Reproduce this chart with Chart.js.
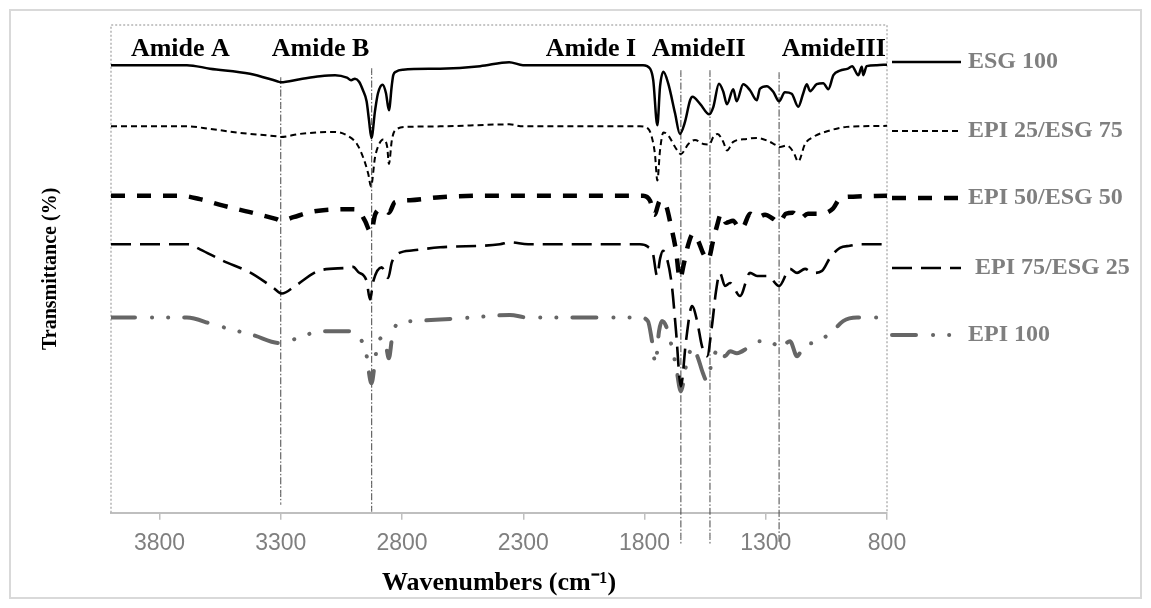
<!DOCTYPE html>
<html>
<head>
<meta charset="utf-8">
<script src="https://cdn.jsdelivr.net/npm/chart.js@4/dist/chart.umd.min.js"></script>
<style>html,body{margin:0;background:#fff}</style>
</head>
<body>
<canvas id="chart" width="1151" height="608"></canvas>
<script>
// FTIR spectra, transmittance in arbitrary units (curves are offset)
const seriesNames = ["ESG 100", "EPI 25/ESG 75", "EPI 50/ESG 50", "EPI 75/ESG 25", "EPI 100"];

const wnESG100 = [4000,3687,3592,3427,3315,3300,3221,3138,3076,3027,3010,2994,2977,2961,2946,2936,2926,2911,2899,2880,2866,2854,2842,2836,2825,2796,2643,2478,2358,2301,1806,1777,1764,1747,1736,1722,1702,1674,1654,1633,1612,1602,1571,1533,1516,1493,1475,1460,1434,1420,1393,1365,1337,1324,1296,1269,1245,1221,1193,1166,1146,1131,1117,1090,1063,1042,1021,994,961,944,918,904,898,884,842,800];
const tESG100 = [89.2,89.2,88.5,87.5,86,85.8,86.4,87,87.2,86.7,86.2,86.5,85.9,84.2,82,78.2,74.7,80.2,83.6,85.3,83.6,80.2,85.2,87.2,87.9,88.3,88.5,89,89.8,89.2,89.2,88.5,86.2,77.2,84.9,87.9,85.5,79.6,75.5,77.9,82.2,82.9,81.5,79.4,80.9,85.5,83.9,81.4,84.4,82,85.4,84.2,82.2,84.5,85,83.9,82,83.8,83.5,80.9,83.5,85.4,84,85.4,85.6,84.4,87.2,88.1,88.5,89,87.2,88.9,87.2,89,89.2,89.3];

const wnEPI25 = [4000,3687,3592,3468,3315,3300,3221,3076,3027,2986,2960,2939,2928,2911,2894,2878,2861,2854,2842,2829,2779,2643,2358,2301,1819,1784,1770,1757,1747,1736,1722,1702,1674,1650,1619,1592,1558,1533,1516,1499,1475,1460,1434,1379,1337,1296,1255,1241,1214,1186,1166,1138,1104,1035,966,800];
const tEPI25 = [77,77,76.5,75.7,75,74.9,75.5,75.9,75.2,73.5,70.8,67.5,65,70.9,73.5,74.4,72.9,69.5,74.2,76.2,76.9,77,77.4,77,77,76.5,74.9,71.5,66.2,72.2,75.8,75.2,72.9,71.5,73.5,74.3,73.5,73.4,74.9,75.5,73.9,72.2,73.9,74.5,74.7,74.2,73.2,72.9,73.2,71.9,70,73.5,74.9,76.2,76.9,77.1];

const wnEPI50 = [4000,3715,3633,3537,3427,3317,3300,3248,3179,3125,3001,2981,2953,2928,2911,2884,2866,2854,2829,2767,2643,2396,1806,1777,1759,1736,1711,1691,1670,1654,1637,1621,1600,1579,1559,1538,1517,1501,1484,1464,1435,1406,1390,1365,1336,1303,1270,1245,1217,1188,1159,1126,1068,1023,994,940,800];
const tEPI50 = [63.2,63.2,62.5,61.2,59.9,58.5,58.2,58.9,59.9,60.3,60.5,60.3,58.2,55.9,59.4,60.5,60.2,59.8,61.9,62.3,62.9,63.2,63.2,62.2,59.4,62.2,61.2,57.2,52.2,46.6,49.8,53.2,55.6,54.2,51.8,50.4,54.2,57.2,59.6,57.8,58.2,56.6,57.2,59.6,58.8,59.4,58.6,57.8,59.6,59.8,58.6,59.6,59.6,60.6,62.6,63,63.2];

const wnEPI75 = [4000,3682,3633,3538,3427,3332,3295,3241,3138,3028,3002,2981,2946,2932,2918,2884,2857,2842,2822,2753,2643,2396,2355,2280,1819,1786,1765,1748,1736,1724,1707,1687,1670,1650,1629,1604,1583,1563,1542,1522,1505,1489,1468,1447,1406,1365,1336,1291,1245,1200,1171,1138,1105,1068,1035,994,953,911,800];
const tEPI75 = [53.5,53.5,52.5,50.2,47.9,44.9,43.7,45.2,48.3,48.8,49,48,46.2,42.5,46.2,48.9,46.8,49.9,51.5,52.3,52.9,53.5,53.9,53.5,53.5,53,51.6,47.2,50.6,52.2,50.6,45.2,36.2,25.2,34.2,41.2,38.2,33.2,31.2,37.2,44.2,47.8,45.2,45.8,43.2,47.8,47.2,47.2,45.2,48.6,47.8,48.6,47.8,48.2,50.8,52.8,53.2,53.5,53.5];

const wnEPI100 = [4000,3880,3687,3583,3509,3414,3300,3221,3130,3023,2973,2948,2926,2907,2887,2870,2854,2841,2821,2759,2643,2520,2355,2280,1819,1786,1769,1755,1740,1728,1711,1691,1670,1650,1629,1612,1600,1579,1559,1542,1526,1509,1489,1468,1447,1419,1377,1336,1282,1241,1200,1171,1138,1105,1056,1023,981,924,800];
const tEPI100 = [38.9,38.9,38.9,37.6,36.6,35.4,33.8,35,36.2,36.2,34.8,31.8,25.8,31.8,34.8,34.2,30.8,34.8,37.6,38.2,38.5,38.9,39.4,38.9,38.9,38.2,34.2,29.8,36.2,38.2,37.2,33.8,29.2,24.2,29.2,32.2,33,30.8,27.8,26.2,29.2,31.8,32.8,31.2,32.2,31.8,32.8,34.2,34.2,32.8,34.2,31.2,33.6,33.8,35,36.2,38.2,38.9,38.9];

// band marker lines
const markerWn = [3300, 2925, 1650, 1530, 1245];
const markerTop = [86.8, 88.6, 88.2, 88.2, 87.8];
const markerBottom = [1.6, 0.2, -6.2, -6.2, -5.8];

const bandLabels = ["Amide A", "Amide B", "Amide I", "AmideII", "AmideIII"];
const bandLabelWn = [3918, 3337, 2207, 1770, 1234];

const tickLabels = [3800, 3300, 2800, 2300, 1800, 1300, 800];

const SERIF = "'Liberation Serif', 'Times New Roman', serif";
const SANS = "'Liberation Sans', Arial, sans-serif";

function pts(xs, ys) {
  return xs.map((x, i) => ({ x: x, y: ys[i] }));
}

const series = [
  { label: seriesNames[0], data: pts(wnESG100, tESG100), borderColor: "#000", borderWidth: 2.5, borderDash: [] },
  { label: seriesNames[1], data: pts(wnEPI25, tEPI25), borderColor: "#000", borderWidth: 2, borderDash: [6, 4] },
  { label: seriesNames[2], data: pts(wnEPI50, tEPI50), borderColor: "#000", borderWidth: 4.5, borderDash: [14, 12] },
  { label: seriesNames[3], data: pts(wnEPI75, tEPI75), borderColor: "#000", borderWidth: 2.6, borderDash: [20, 9] },
  { label: seriesNames[4], data: pts(wnEPI100, tEPI100), borderColor: "#666", borderWidth: 4, borderDash: [24, 17, 0.1, 16, 0.1, 16], borderCapStyle: "round" }
];

const markers = markerWn.map((wn, i) => ({
  label: "marker" + i,
  data: [{ x: wn, y: markerTop[i] }, { x: wn, y: markerBottom[i] }],
  borderColor: "#444",
  borderWidth: 1,
  borderDash: [7, 2, 1.5, 2],
  clip: false
}));

const legendY = [62, 131, 198, 268, 335];
const legendTextX = [968, 968, 968, 975, 968];

const decorations = {
  id: "decorations",
  beforeDraw(chart) {
    const ctx = chart.ctx;
    ctx.save();
    ctx.fillStyle = "#fff";
    ctx.fillRect(0, 0, chart.width, chart.height);
    ctx.strokeStyle = "#d9d9d9";
    ctx.lineWidth = 2;
    ctx.strokeRect(10, 10, 1131, 588);
    ctx.restore();
  },
  beforeDatasetsDraw(chart) {
    const { ctx, chartArea: a } = chart;
    ctx.save();
    ctx.strokeStyle = "#b4b4b4";
    ctx.lineWidth = 1.5;
    ctx.setLineDash([2, 2]);
    ctx.beginPath();
    ctx.moveTo(a.left, a.bottom);
    ctx.lineTo(a.left, a.top);
    ctx.lineTo(a.right, a.top);
    ctx.lineTo(a.right, a.bottom);
    ctx.stroke();
    ctx.restore();
  },
  afterDraw(chart) {
    const ctx = chart.ctx;
    const xs = chart.scales.x, ys = chart.scales.y;
    ctx.save();
    // band names
    ctx.fillStyle = "#000";
    ctx.font = "bold 26px " + SERIF;
    ctx.textAlign = "left";
    ctx.textBaseline = "alphabetic";
    bandLabels.forEach((t, i) => {
      ctx.fillText(t, xs.getPixelForValue(bandLabelWn[i]), ys.getPixelForValue(91.1));
    });
    // legend
    ctx.font = "bold 24px " + SERIF;
    ctx.textBaseline = "middle";
    series.forEach((ds, i) => {
      const y = legendY[i];
      ctx.save();
      ctx.strokeStyle = ds.borderColor;
      ctx.lineWidth = ds.borderWidth;
      ctx.lineCap = ds.borderCapStyle || "butt";
      ctx.setLineDash(ds.borderDash);
      ctx.beginPath();
      ctx.moveTo(892, y);
      ctx.lineTo(961, y);
      ctx.stroke();
      ctx.restore();
      ctx.fillStyle = "#7f7f7f";
      ctx.fillText(ds.label, legendTextX[i], y);
    });
    ctx.restore();
  }
};

new Chart(document.getElementById("chart").getContext("2d"), {
  type: "line",
  data: { datasets: series.concat(markers) },
  options: {
    responsive: false,
    animation: false,
    devicePixelRatio: 1,
    layout: { padding: { top: 25, right: 264, left: 20, bottom: 2 } },
    elements: {
      point: { radius: 0 },
      line: { cubicInterpolationMode: "monotone", fill: false }
    },
    plugins: { legend: { display: false }, tooltip: { enabled: false } },
    scales: {
      x: {
        type: "linear",
        reverse: true,
        min: 800,
        max: 4000,
        afterBuildTicks: (s) => { s.ticks = tickLabels.map(v => ({ value: v })); },
        grid: { drawOnChartArea: false, drawTicks: true, tickLength: 7, color: "#bfbfbf", lineWidth: 1.5 },
        border: { color: "#bfbfbf", width: 2 },
        ticks: {
          font: { family: SANS, size: 23 },
          color: "#7f7f7f",
          padding: 10,
          maxRotation: 0,
          autoSkip: false,
          callback: (v) => String(v)
        },
        title: {
          display: true,
          text: "Wavenumbers (cm\u207B\u00B9)",
          color: "#000",
          font: { family: SERIF, size: 26, weight: "bold" },
          padding: { top: 0, bottom: 7.4 }
        }
      },
      y: {
        min: 0,
        max: 97.2,
        ticks: { display: false },
        grid: { display: false, drawTicks: false },
        border: { display: false },
        title: {
          display: true,
          text: "Transmittance (%)",
          color: "#000",
          font: { family: SERIF, size: 20, weight: "bold" },
          padding: { top: 19, bottom: 48 }
        }
      }
    }
  },
  plugins: [decorations]
});
</script>
</body>
</html>
